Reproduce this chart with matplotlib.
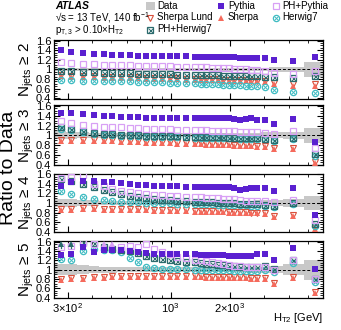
import numpy as np
import matplotlib
matplotlib.use("Agg")
from matplotlib import pyplot as plt
from matplotlib.lines import Line2D
from matplotlib.patches import Rectangle
from matplotlib.ticker import FixedLocator, MultipleLocator, LogLocator, NullFormatter

plt.rcParams['font.family'] = ['Liberation Sans', 'DejaVu Sans']
plt.rcParams['mathtext.fontset'] = 'custom'
plt.rcParams['mathtext.rm'] = 'Liberation Sans'
plt.rcParams['mathtext.it'] = 'Liberation Sans:italic'
plt.rcParams['mathtext.bf'] = 'Liberation Sans:bold'

nan = np.nan

# bin centres [GeV]
ht = [277, 313, 359, 408, 458, 506, 557, 620, 682, 753, 822, 900, 989, 1081, 1199, 1324,
      1420, 1517, 1628, 1740, 1852, 1977, 2113, 2248, 2404, 2571, 2756, 3003, 3345, 4178, 5400]

# Njets >= 2
pythia2 = [1.40,1.37,1.35,1.33,1.32,1.31,1.30,1.30,1.29,1.29,1.28,1.28,1.27,1.27,1.27,1.26,1.26,1.26,1.26,1.26,1.25,1.25,1.25,1.24,1.24,1.24,1.24,1.24,1.20,1.17,1.25]
phpythia2 = [1.15,1.13,1.12,1.11,1.10,1.10,1.09,1.09,1.08,1.08,1.07,1.07,1.07,1.06,1.06,1.06,1.05,1.05,1.04,1.04,1.03,1.03,1.02,1.01,1.00,0.99,0.98,0.97,0.93,0.90,0.97]
pherwig2 = [0.97,0.96,0.95,0.94,0.93,0.93,0.92,0.92,0.91,0.91,0.90,0.90,0.90,0.89,0.89,0.89,0.88,0.88,0.88,0.88,0.87,0.87,0.87,0.87,0.86,0.86,0.86,0.85,0.84,0.82,0.86]
herwig2 = [0.79,0.78,0.77,0.76,0.76,0.75,0.75,0.75,0.74,0.74,0.73,0.73,0.72,0.72,0.71,0.71,0.70,0.70,0.69,0.69,0.68,0.68,0.67,0.67,0.66,0.66,0.65,0.63,0.58,0.54,0.51]
sherpa2 = [0.86,0.85,0.84,0.84,0.83,0.83,0.82,0.82,0.82,0.81,0.81,0.80,0.80,0.80,0.79,0.79,0.79,0.78,0.78,0.78,0.77,0.77,0.77,0.76,0.76,0.75,0.75,0.74,0.70,0.66,0.66]
lund2 = [0.88,0.87,0.86,0.86,0.85,0.85,0.84,0.84,0.84,0.83,0.83,0.82,0.82,0.82,0.81,0.81,0.81,0.80,0.80,0.80,0.79,0.79,0.79,0.78,0.78,0.77,0.77,0.76,0.72,0.70,0.70]
unc2 = [0.04,0.035,0.03,0.03,0.03,0.03,0.03,0.03,0.03,0.03,0.03,0.03,0.03,0.03,0.03,0.03,0.03,0.03,0.03,0.03,0.03,0.03,0.03,0.03,0.03,0.035,0.035,0.04,0.05,0.06,0.15]

# Njets >= 3
pythia3 = [1.46,1.45,1.43,1.42,1.40,1.39,1.38,1.37,1.37,1.36,1.36,1.36,1.36,1.36,1.36,1.36,1.36,1.36,1.36,1.35,1.35,1.35,1.34,1.31,1.33,1.35,1.32,1.31,1.23,1.33,0.87]
phpythia3 = [1.30,1.25,1.21,1.19,1.18,1.17,1.16,1.15,1.14,1.13,1.13,1.12,1.12,1.11,1.11,1.10,1.10,1.10,1.09,1.09,1.08,1.08,1.08,1.06,1.07,1.07,1.06,1.05,1.02,1.08,0.73]
pherwig3 = [1.16,1.12,1.08,1.05,1.03,1.02,1.01,1.00,1.00,0.99,0.99,0.98,0.98,0.98,0.97,0.97,0.97,0.96,0.96,0.96,0.96,0.95,0.95,0.94,0.95,0.95,0.94,0.93,0.90,0.94,0.61]
herwig3 = [1.13,1.10,1.06,1.03,1.01,1.00,0.99,0.98,0.98,0.97,0.97,0.97,0.96,0.96,0.96,0.95,0.95,0.95,0.95,0.94,0.94,0.94,0.94,0.93,0.93,0.93,0.92,0.92,0.88,0.93,0.58]
sherpa3 = [0.88,0.89,0.89,0.89,0.88,0.88,0.87,0.86,0.86,0.85,0.85,0.84,0.84,0.83,0.83,0.82,0.82,0.81,0.81,0.81,0.80,0.80,0.79,0.78,0.78,0.78,0.77,0.76,0.72,0.71,0.44]
lund3 = [0.90,0.91,0.91,0.91,0.90,0.90,0.89,0.88,0.88,0.87,0.87,0.86,0.86,0.85,0.85,0.84,0.84,0.83,0.83,0.83,0.82,0.82,0.81,0.80,0.80,0.80,0.79,0.78,0.74,0.73,0.46]
unc3 = [0.08,0.07,0.06,0.05,0.05,0.04,0.04,0.04,0.04,0.04,0.04,0.04,0.04,0.04,0.04,0.04,0.04,0.04,0.04,0.04,0.04,0.04,0.04,0.04,0.04,0.05,0.05,0.06,0.06,0.07,0.15]

# Njets >= 4
pythia4 = [1.36,1.44,1.46,1.45,1.43,1.43,1.41,1.39,1.38,1.37,1.36,1.36,1.35,1.35,1.34,1.34,1.34,1.33,1.33,1.33,1.33,1.33,1.32,1.28,1.30,1.31,1.31,1.31,1.25,1.31,0.75]
phpythia4 = [1.53,1.55,1.58,1.40,1.35,1.29,1.25,1.22,1.20,1.18,1.17,1.16,1.15,1.14,1.13,1.12,1.12,1.11,1.10,1.10,1.09,1.08,1.08,1.06,1.05,1.05,1.05,1.04,1.02,1.06,0.65]
pherwig4 = [1.50,1.46,1.40,1.34,1.27,1.22,1.19,1.15,1.12,1.10,1.08,1.07,1.06,1.05,1.04,1.03,1.02,1.02,1.01,1.00,1.00,0.99,0.99,0.98,0.97,0.97,0.97,0.96,0.94,1.00,0.56]
herwig4 = [1.25,1.19,1.13,1.09,1.06,1.04,1.03,1.02,1.01,1.00,1.00,0.99,0.99,0.98,0.98,0.98,0.97,0.97,0.97,0.96,0.96,0.96,0.95,0.95,0.95,0.94,0.94,0.93,0.91,0.97,0.52]
sherpa4 = [0.85,0.86,0.87,0.87,0.86,0.86,0.86,0.85,0.85,0.85,0.84,0.84,0.83,0.83,0.83,0.82,0.82,0.82,0.81,0.81,0.81,0.80,0.80,0.79,0.79,0.78,0.78,0.77,0.71,0.72,0.45]
lund4 = [0.87,0.88,0.89,0.89,0.88,0.88,0.88,0.87,0.87,0.87,0.86,0.86,0.85,0.85,0.85,0.84,0.84,0.84,0.83,0.83,0.83,0.82,0.82,0.81,0.81,0.80,0.80,0.79,0.73,0.74,0.47]
unc4 = [0.08,0.08,0.07,0.06,0.05,0.05,0.04,0.04,0.04,0.04,0.04,0.04,0.04,0.04,0.04,0.04,0.04,0.04,0.04,0.04,0.04,0.04,0.04,0.04,0.04,0.05,0.06,0.07,0.07,0.08,0.15]

# Njets >= 5  (nan = off scale, drawn as arrow)
pythia5 = [1.31,1.35,1.48,1.38,1.42,1.43,1.42,1.40,1.38,1.37,1.35,1.34,1.34,1.33,1.33,1.33,1.32,1.32,1.31,1.31,1.31,1.30,1.30,1.29,1.29,1.30,1.33,1.35,1.22,1.47,1.01]
phpythia5 = [1.50,1.52,1.58,1.56,nan,nan,1.50,1.52,1.48,1.55,1.45,1.38,1.33,1.28,1.25,1.22,1.20,1.18,1.16,1.14,1.12,1.10,1.09,1.08,1.07,1.06,1.06,1.07,1.00,1.22,0.80]
pherwig5 = [nan,nan,1.60,1.57,1.50,1.45,1.42,1.40,1.36,1.30,1.26,1.23,1.21,1.19,1.17,1.16,1.14,1.13,1.12,1.11,1.10,1.09,1.08,1.07,1.07,1.06,1.07,1.09,1.01,1.20,0.80]
herwig5 = [1.23,1.22,1.40,1.45,1.43,1.42,1.38,1.25,1.17,1.05,1.03,1.02,1.02,1.01,1.01,1.00,1.00,1.00,1.00,0.99,0.99,0.99,0.98,0.98,0.98,0.97,0.98,1.00,0.96,1.15,0.74]
sherpa5 = [0.78,0.80,0.81,0.82,0.83,0.84,0.84,0.84,0.84,0.84,0.84,0.84,0.84,0.84,0.84,0.84,0.84,0.83,0.83,0.83,0.83,0.83,0.82,0.82,0.82,0.81,0.81,0.80,0.70,0.83,0.50]
lund5 = [0.80,0.82,0.83,0.84,0.85,0.86,0.86,0.86,0.86,0.86,0.86,0.86,0.86,0.86,0.86,0.86,0.86,0.85,0.85,0.85,0.85,0.85,0.84,0.84,0.84,0.83,0.83,0.82,0.72,0.85,0.52]
unc5 = [0.12,0.12,0.10,0.08,0.07,0.06,0.05,0.05,0.05,0.05,0.05,0.05,0.05,0.05,0.05,0.05,0.05,0.05,0.05,0.05,0.05,0.05,0.05,0.05,0.05,0.06,0.06,0.07,0.08,0.12,0.22]

njets = [2, 3, 4, 5]

c_py = '#5a20d0'
c_php = '#d8a0f5'
c_lund = '#d9503c'
c_sh = '#f56a5c'
c_hw = '#40bcc2'
c_phh = '#2b6b6d'
c_data = '#c8c8c8'

panels = [
    (pythia2, phpythia2, pherwig2, herwig2, sherpa2, lund2, unc2),
    (pythia3, phpythia3, pherwig3, herwig3, sherpa3, lund3, unc3),
    (pythia4, phpythia4, pherwig4, herwig4, sherpa4, lund4, unc4),
    (pythia5, phpythia5, pherwig5, herwig5, sherpa5, lund5, unc5),
]

# bin edges: geometric midpoints
lc = np.log10(ht)
edges = np.concatenate([[np.log10(255)], (lc[1:] + lc[:-1]) / 2, [np.log10(5950)]])
edges = 10 ** edges

W, H = 341, 330
fig = plt.figure(figsize=(W / 100, H / 100), dpi=100)
rects = [[0.158, 0.700, 0.789, 0.179],
         [0.158, 0.499, 0.789, 0.182],
         [0.158, 0.296, 0.789, 0.178],
         [0.158, 0.096, 0.789, 0.173]]

ms = 4.5
for k, (py, php, phh, hw, sh, lu, unc) in enumerate(panels):
    ax = fig.add_axes(rects[k])
    unc = np.array(unc)
    ax.stairs(1 + unc, edges, baseline=1 - unc, fill=True, color=c_data, lw=0, zorder=1)
    ax.axhline(1, color='k', ls=(0, (3, 2)), lw=0.7, zorder=2)

    ax.plot(ht, lu, ls='none', marker='v', mfc='none', mec=c_lund, ms=ms, mew=0.8, zorder=3)
    ax.plot(ht, sh, ls='none', marker='^', color=c_sh, ms=ms, mew=0, zorder=3)
    ax.plot(ht, hw, ls='none', marker='o', mfc='none', mec=c_hw, ms=ms, mew=0.9, zorder=4)
    ax.plot(ht, hw, ls='none', marker='x', color=c_hw, ms=ms * 0.6, mew=0.7, zorder=4)
    ax.plot(ht, phh, ls='none', marker='s', mfc='none', mec=c_phh, ms=ms, mew=0.9, zorder=5)
    ax.plot(ht, phh, ls='none', marker='x', color=c_phh, ms=ms * 0.8, mew=0.7, zorder=5)
    ax.plot(ht, php, ls='none', marker='s', mfc='none', mec=c_php, ms=ms, mew=0.9, zorder=6)
    ax.plot(ht, py, ls='none', marker='s', color=c_py, ms=ms, mew=0, zorder=7)

    # off-scale arrows
    for vals, col in [(phh, c_phh), (php, c_php)]:
        for x, v in zip(ht, vals):
            if np.isnan(v):
                ax.plot([x, x], [1.46, 1.57], color=col, lw=0.9, zorder=6)
                ax.plot([x], [1.56], marker='^', color=col, ms=ms, mew=0, zorder=6)

    ax.set_xscale('log')
    ax.set_xlim(255, 5950)
    ax.set_ylim(0.385, 1.615)
    ax.set_yticks([0.4, 0.6, 0.8, 1.0, 1.2, 1.4, 1.6])
    ax.set_yticklabels(['0.4', '0.6', '0.8', '1', '1.2', '1.4', '1.6'])
    ax.yaxis.set_minor_locator(MultipleLocator(0.05))
    ax.xaxis.set_major_locator(FixedLocator([300, 1000, 2000]))
    ax.xaxis.set_minor_locator(LogLocator(base=10, subs=np.arange(2, 10)))
    ax.xaxis.set_minor_formatter(NullFormatter())
    if k == 3:
        ax.set_xticklabels([r'3$\times$10$^{2}$', r'10$^{3}$', r'2$\times$10$^{3}$'])
    else:
        ax.set_xticklabels([])
    ax.tick_params(which='both', direction='in', top=True, right=True, labelsize=8, pad=2)
    ax.tick_params(which='major', length=4, width=0.8)
    ax.tick_params(which='minor', length=2, width=0.6)
    for s in ax.spines.values():
        s.set_linewidth(0.9)
    ax.set_ylabel('N$_{\\mathrm{jets}}$ \u2265 %d' % njets[k], fontsize=11)
    ax.yaxis.set_label_coords(-0.068, 0.5)

fig.text(9 / W, 0.49, 'Ratio to Data', rotation=90, fontsize=14, va='center', ha='center')
fig.text(323 / W, 0.015, r'H$_{\mathrm{T2}}$ [GeV]', fontsize=8, ha='right', va='bottom')

fig.text(55 / W, 1 - 6 / H, 'ATLAS', fontsize=7.5, fontweight='bold', fontstyle='italic', va='center')
fig.text(55 / W, 1 - 18 / H, '\u221as = 13 TeV, 140 fb$^{-1}$', fontsize=7, va='center')
fig.text(55 / W, 1 - 31 / H, r'p$_{\mathrm{T,3}}$ > 0.10$\times$H$_{\mathrm{T2}}$', fontsize=7, va='center')

# legend drawn entry by entry
def fx(px):
    return px / W

def fy(py):
    return 1 - py / H

fig.add_artist(Rectangle((fx(145.5), fy(9.5)), fx(9.5), 7 / H, transform=fig.transFigure,
                         color=c_data, lw=0))
legend_marks = [
    (150, 17.5, [dict(marker='v', mfc='none', mec=c_lund, mew=0.8)]),
    (150, 29.5, [dict(marker='s', mfc='none', mec=c_phh, mew=0.9),
                 dict(marker='x', color=c_phh, mew=0.7, scale=0.8)]),
    (221, 6, [dict(marker='s', color=c_py, mew=0)]),
    (221, 17.5, [dict(marker='^', color=c_sh, mew=0)]),
    (276, 6, [dict(marker='s', mfc='none', mec=c_php, mew=0.9)]),
    (276, 17.5, [dict(marker='o', mfc='none', mec=c_hw, mew=0.9),
                 dict(marker='x', color=c_hw, mew=0.7, scale=0.6)]),
]
for px, py, styles in legend_marks:
    for st in styles:
        st = dict(st)
        sc = st.pop('scale', 1.0)
        fig.add_artist(Line2D([fx(px)], [fy(py)], ls='none', ms=ms * sc,
                              transform=fig.transFigure, **st))

legend_texts = [
    (157, 6, 'Data'), (157, 17.5, 'Sherpa Lund'), (157, 29.5, 'PH+Herwig7'),
    (228, 6, 'Pythia'), (228, 17.5, 'Sherpa'),
    (282, 6, 'PH+Pythia'), (282, 17.5, 'Herwig7'),
]
for px, py, t in legend_texts:
    fig.text(fx(px), fy(py), t, fontsize=7, va='center', ha='left')

fig.savefig('out.png', dpi=100)
